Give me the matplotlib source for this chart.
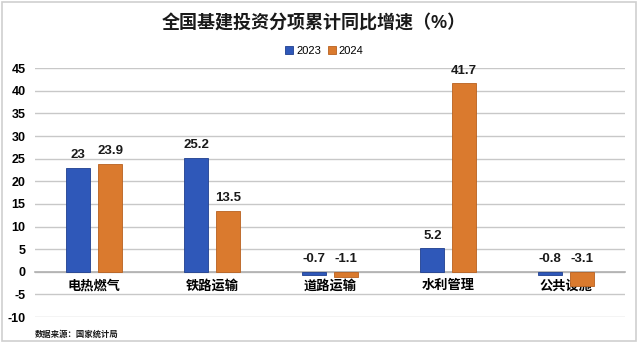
import numpy as np
import matplotlib
matplotlib.use('Agg')
import matplotlib.pyplot as plt
from matplotlib.patches import Rectangle

plt.rcParams['font.family'] = ['Liberation Sans', 'Noto Sans CJK SC', 'DejaVu Sans']

categories = ['电热燃气', '铁路运输', '道路运输', '水利管理', '公共设施']
vals_2023 = [23, 25.2, -0.7, 5.2, -0.8]
vals_2024 = [23.9, 13.5, -1.1, 41.7, -3.1]
labels_2023 = ['23', '25.2', '-0.7', '5.2', '-0.8']
labels_2024 = ['23.9', '13.5', '-1.1', '41.7', '-3.1']
yticks = list(range(-10, 50, 5))

C_BLUE = '#2F58B9'
C_ORANGE = '#DA7A2E'

fig = plt.figure(figsize=(6.4, 3.55), dpi=100)
ax = fig.add_axes([0.055, 0.107, 0.922, 0.701])

# light frame round the whole picture
fig.patches.append(Rectangle((0.003, 0.04), 0.99, 0.955, transform=fig.transFigure,
                             fill=False, edgecolor='#cfcfcf', lw=1.2))

x = np.arange(len(categories))
w = 0.205
off = 0.135
ax.bar(x - off, vals_2023, w, color=C_BLUE, edgecolor='#1f3f8f', lw=0.6,
       label='2023', zorder=3)
ax.bar(x + off, vals_2024, w, color=C_ORANGE, edgecolor='#b8611f', lw=0.6,
       label='2024', zorder=3)

for xi, v, s in zip(x - off, vals_2023, labels_2023):
    ax.text(xi, max(v, 0) + 1.4, s, ha='center', va='bottom', fontsize=9.5,
            fontweight='bold', color='#1a1a1a', zorder=2)
for xi, v, s in zip(x + off, vals_2024, labels_2024):
    ax.text(xi, max(v, 0) + 1.4, s, ha='center', va='bottom', fontsize=9.5,
            fontweight='bold', color='#1a1a1a', zorder=2)

ax.set_xlim(-0.5, len(categories) - 0.5)
ax.set_ylim(-10, 45)
ax.set_yticks(yticks)
ax.set_yticklabels([str(t) for t in yticks], fontsize=9, fontweight='bold')
ax.yaxis.grid(True, color='#c8c8c8', lw=1.0, zorder=0)
ax.tick_params(axis='y', length=0, pad=7)

ax.spines['bottom'].set_position(('data', 0))
ax.spines['bottom'].set_color('#b0b0b0')
ax.spines['bottom'].set_linewidth(1.2)
for s in ('top', 'right', 'left'):
    ax.spines[s].set_visible(False)
ax.set_xticks(x)
ax.set_xticklabels(categories, fontsize=9.5, fontweight='bold')
ax.tick_params(axis='x', length=0, pad=6)

fig.text(0.49, 0.935, '全国基建投资分项累计同比增速（%）', ha='center', va='center',
         fontsize=13, fontweight='bold', color='#1a1a1a')
ax.legend(loc='upper center', bbox_to_anchor=(0.49, 1.13), ncol=2, frameon=False,
          fontsize=8, handlelength=0.7, handleheight=0.7, handletextpad=0.3,
          columnspacing=0.6)
fig.text(0.055, 0.058, '数据来源：国家统计局', ha='left', va='center',
         fontsize=6, fontweight='bold', color='#1a1a1a')

fig.savefig('out.png', dpi=100, facecolor='white')
